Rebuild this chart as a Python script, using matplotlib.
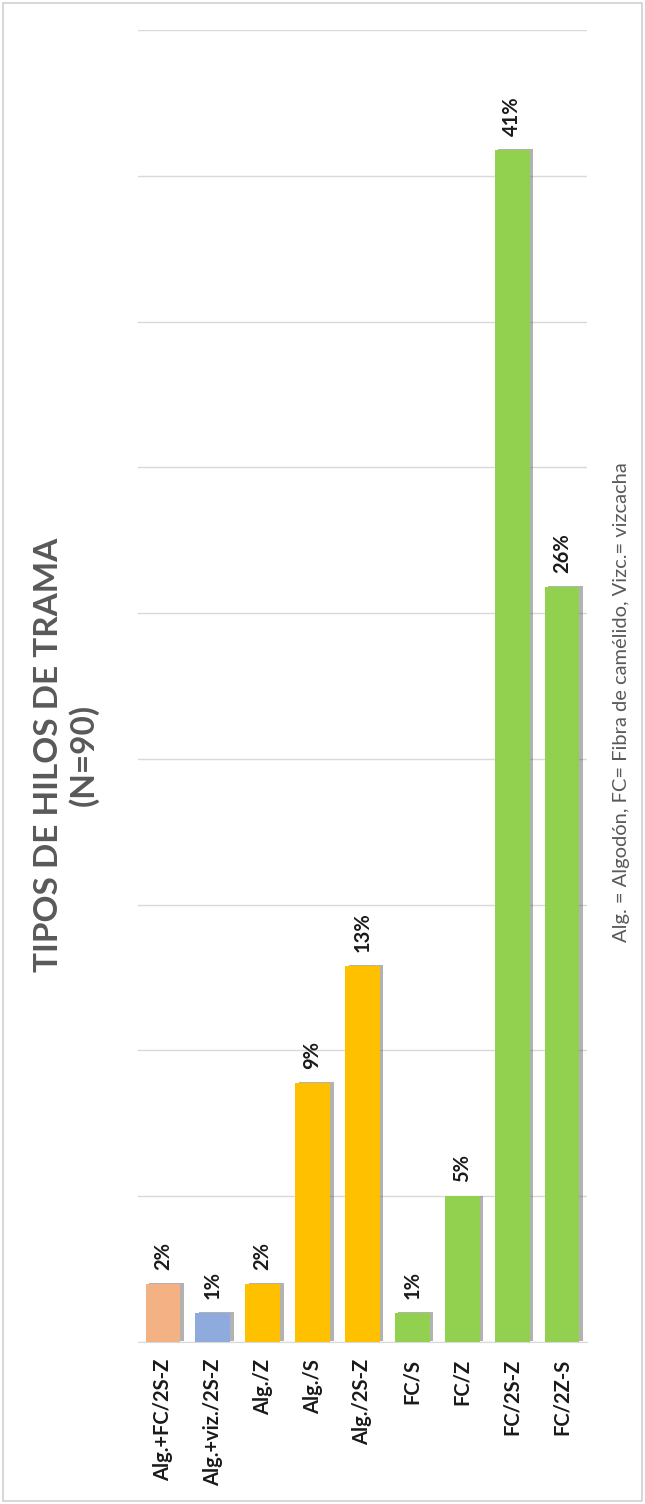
import matplotlib.pyplot as plt
import matplotlib.patheffects as pe
from matplotlib.patches import Rectangle

categorias = ["Alg.+FC/2S-Z", "Alg.+viz./2S-Z", "Alg./Z", "Alg./S", "Alg./2S-Z",
              "FC/S", "FC/Z", "FC/2S-Z", "FC/2Z-S"]
porcentajes = [2.0, 1.0, 2.0, 8.9, 12.9, 1.0, 5.0, 40.9, 25.9]
etiquetas = ["2%", "1%", "2%", "9%", "13%", "1%", "5%", "41%", "26%"]
colores = ["#F4B183", "#8FAADC", "#FFC000", "#FFC000", "#FFC000",
           "#92D050", "#92D050", "#92D050", "#92D050"]

plt.rcParams['font.family'] = ['Lato', 'DejaVu Sans']

fig = plt.figure(figsize=(6.45, 15.04), dpi=100)
fig.patches.append(Rectangle((0.004, 0.002), 0.992, 0.996, transform=fig.transFigure,
                             fill=False, edgecolor="#D0D0D0", linewidth=1.2))

ax = fig.add_axes([0.214, 0.1077, 0.696, 0.8723])
x = range(len(categorias))
barras = ax.bar(x, porcentajes, width=0.7, color=colores, zorder=3)
for b in barras:
    b.set_path_effects([pe.SimplePatchShadow(offset=(2.5, 0.5), shadow_rgbFace="#555555", alpha=0.45),
                        pe.Normal()])

for i in x:
    ax.annotate(etiquetas[i], (i, porcentajes[i]), xytext=(0, 10), textcoords="offset points",
                rotation=90, ha="center", va="bottom", fontsize=14.5, fontweight="bold",
                color="#1a1a1a")

ax.set_ylim(0, 45)
ax.set_xlim(-0.5, len(categorias) - 0.5)
ax.set_yticks(range(0, 46, 5))
ax.yaxis.grid(True, color="#D9D9D9", linewidth=1.0, zorder=0)
ax.set_yticklabels([])
ax.tick_params(axis="y", length=0)
ax.set_xticks(list(x))
ax.set_xticklabels(categorias, rotation=90, fontsize=14.5, fontweight="bold", color="#1a1a1a")
ax.tick_params(axis="x", length=0, pad=12)
for s in ["top", "right", "left"]:
    ax.spines[s].set_visible(False)
ax.spines["bottom"].set_color("#D9D9D9")

fig.text(0.103, 0.498, "TIPOS DE HILOS DE TRAMA\n(N=90)", rotation=90, ha="center", va="center",
         fontsize=24, fontweight="bold", color="#595959", linespacing=1.2)
fig.text(0.963, 0.533, "Alg. = Algodón, FC= Fibra de camélido, Vizc.= vizcacha", rotation=90,
         ha="center", va="center", fontsize=14.5, color="#595959")

fig.savefig("out.png", dpi=100)
